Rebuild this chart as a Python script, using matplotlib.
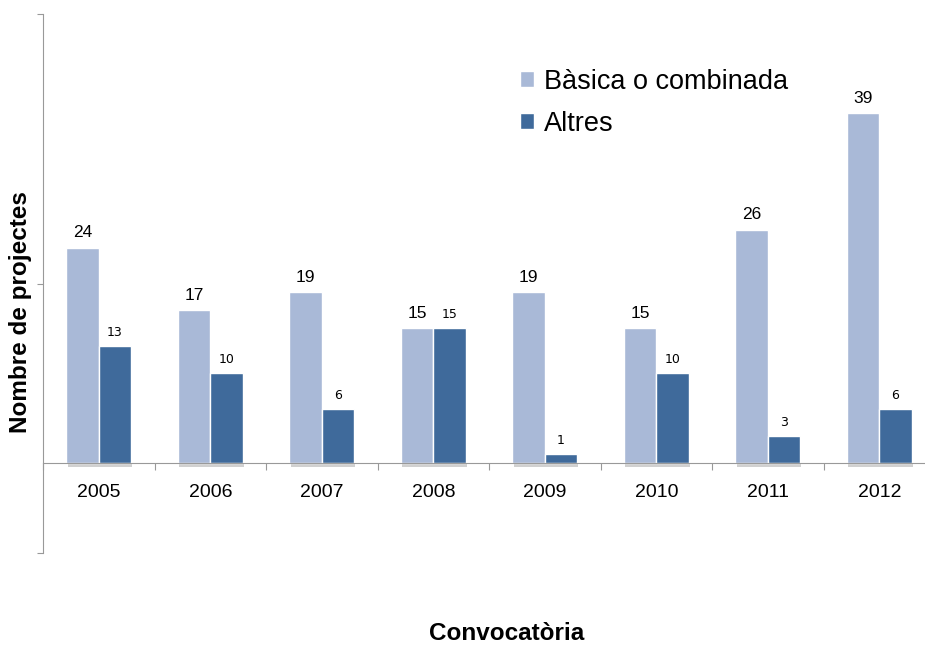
import matplotlib.pyplot as plt
import numpy as np

years = ['2005', '2006', '2007', '2008', '2009', '2010', '2011', '2012']
basica = [24, 17, 19, 15, 19, 15, 26, 39]
altres = [13, 10, 6, 15, 1, 10, 3, 6]

light = '#A9B9D7'
dark = '#3F6A9B'
axis_col = '#999999'

plt.rcParams['font.family'] = ['Liberation Sans', 'DejaVu Sans']

fig = plt.figure(figsize=(9.25, 6.46), dpi=100)
ax = fig.add_axes([43 / 925, 1 - 553 / 646, 892 / 925, 539 / 646])

x = np.arange(len(years))
w = 0.29

# faint shadow under the bars
for xi in x:
    ax.bar(xi + 0.012, -0.45, width=2 * w, bottom=0, color='#d0d0d0', zorder=1)

b1 = ax.bar(x - w / 2, basica, width=w, color=light, edgecolor='white', linewidth=1, zorder=2,
            label='Bàsica o combinada')
b2 = ax.bar(x + w / 2, altres, width=w, color=dark, edgecolor='white', linewidth=1, zorder=2,
            label='Altres')

for xi, v in zip(x, basica):
    ax.text(xi - w / 2, v + 0.8, str(v), ha='center', va='bottom', fontsize=12.5)
for xi, v in zip(x, altres):
    ax.text(xi + w / 2, v + 0.8, str(v), ha='center', va='bottom', fontsize=9,
            family=['DejaVu Sans'])

ax.set_xlim(-0.5, len(years) - 0.5)
ax.set_ylim(-10, 50)

for s in ['top', 'right']:
    ax.spines[s].set_visible(False)
ax.spines['left'].set_color(axis_col)
ax.spines['bottom'].set_color(axis_col)
ax.spines['bottom'].set_position(('data', 0))

ax.set_yticks([-10, 20, 50])
ax.set_yticklabels([])
ax.tick_params(axis='y', length=4, color=axis_col)

ax.set_xticks(np.arange(len(years) + 1) - 0.5)
ax.set_xticklabels([])
ax.set_xticks(x, minor=True)
ax.set_xticklabels(years, minor=True, fontsize=14)
ax.tick_params(axis='x', which='major', length=5, color=axis_col)
ax.tick_params(axis='x', which='minor', length=0, pad=15)

fig.text(21 / 925, 1 - 312 / 646, 'Nombre de projectes', rotation=90, ha='center', va='center',
         fontsize=17.5, fontweight='bold')
fig.text(507 / 925, 1 - 634 / 646, 'Convocatòria', ha='center', va='center',
         fontsize=17.5, fontweight='bold')

fig.legend(handles=[b1, b2], loc='upper left', bbox_to_anchor=(506 / 925, 1 - 55 / 646),
           frameon=False, fontsize=19.5, handlelength=0.55, handleheight=0.55,
           handletextpad=0.35, labelspacing=0.6, borderpad=0)

fig.savefig('out.png', dpi=100)
